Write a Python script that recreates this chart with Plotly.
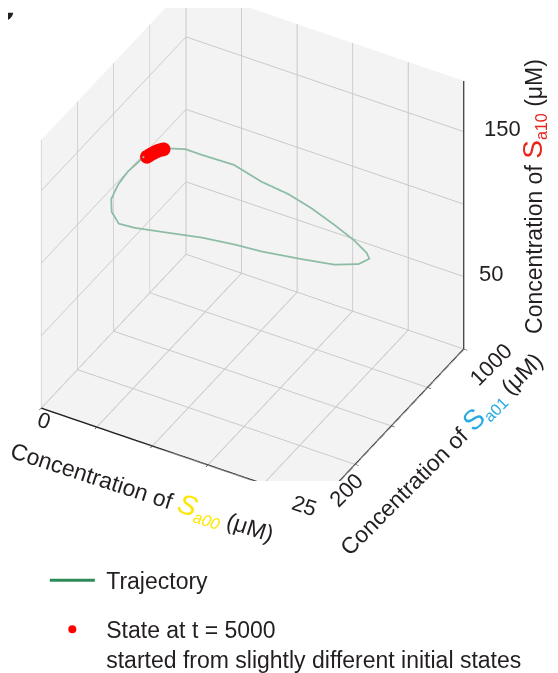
import plotly.graph_objects as go

# Trajectory (limit cycle) in concentration space (µM)
traj_sa00 = [3.5, 4.0, 4.5, 5.5, 6.5, 8.5, 10.5, 12.5, 14.5, 16.5, 18.5, 20.0, 20.5, 20.0,
             18.5, 16.0, 13.0, 11.0, 8.5, 6.5, 4.5, 3.5, 3.0, 2.8, 2.8, 3.0, 3.2, 3.5]
traj_sa01 = [551, 586, 622, 660, 682, 743, 771, 798, 802, 807, 795, 769, 755, 725,
             685, 657, 622, 596, 568, 508, 442, 414, 405, 415, 453, 495, 538, 551]
traj_sa10 = [136, 137, 135, 132, 128, 118, 108, 101, 96, 89, 85, 84, 83, 82,
             83, 84, 86, 89, 91, 97, 104, 108, 116, 123, 128, 132, 133, 136]

# States at t = 5000 from slightly different initial states
end_sa00 = [3.7, 3.8, 3.9, 4.0, 4.1, 4.2, 4.3, 4.4]
end_sa01 = [556, 563, 570, 577, 584, 591, 598, 605]
end_sa10 = [136.0, 136.3, 136.6, 136.8, 137.0, 137.0, 136.8, 136.5]

x_range = [0, 25]
y_range = [200, 1000]
z_range = [0, 185]
x_ticks = [0, 5, 10, 15, 20, 25]
y_ticks = [200, 400, 600, 800, 1000]
z_ticks = [0, 50, 100, 150]
x_labels = {0: "0", 25: "25"}
y_labels = {200: "200", 1000: "1000"}
z_labels = {50: "50", 150: "150"}

FONT = "Liberation Sans, Arial, sans-serif"
TXT = "#231f20"

fig = go.Figure()
# legend entry for the trajectory (solid colour as in the reference legend)
fig.add_trace(go.Scatter3d(
    x=[None], y=[None], z=[None], mode="lines",
    line=dict(color="#2e8b57", width=3), name="&nbsp;Trajectory", legendgroup="traj"))
fig.add_trace(go.Scatter3d(
    x=traj_sa00, y=traj_sa01, z=traj_sa10, mode="lines",
    line=dict(color="#8cbca3", width=3.5), name="Trajectory", showlegend=False,
    legendgroup="traj"))
fig.add_trace(go.Scatter3d(
    x=end_sa00, y=end_sa01, z=end_sa10, mode="markers",
    marker=dict(color="#ff0000", size=8, line=dict(width=0)),
    name="&nbsp;State at t = 5000<br>&nbsp;started from slightly different initial states",
    legendgroup="end"))
# z axis line drawn on the back-right edge, as in the reference
fig.add_trace(go.Scatter3d(
    x=[x_range[1], x_range[1]], y=[y_range[1], y_range[1]], z=z_range, mode="lines",
    line=dict(color=TXT, width=3), showlegend=False, hoverinfo="skip"))

axis_common = dict(
    showbackground=True, backgroundcolor="#f3f3f3",
    gridcolor="#c8c8c8", gridwidth=2,
    showline=True, linecolor=TXT, linewidth=3,
    ticks="outside", ticklen=4, tickcolor=TXT,
    showticklabels=False, zeroline=False, showspikes=False, title=dict(text=""),
)

tick_font = dict(size=22, color=TXT, family=FONT)
annotations = []
x_shifts = {0: (3, -12), 25: (-15, -3)}
for v, t in x_labels.items():
    annotations.append(dict(x=v, y=y_range[0], z=z_range[0], text=t, showarrow=False, textangle=18,
                            font=tick_font, xanchor="center", yanchor="middle",
                            xshift=x_shifts[v][0], yshift=x_shifts[v][1]))
y_shifts = {200: (28, 13), 1000: (27, -15)}
for v, t in y_labels.items():
    annotations.append(dict(x=x_range[1], y=v, z=z_range[0], text=t, showarrow=False, textangle=-45,
                            font=tick_font, xanchor="center", yanchor="middle",
                            xshift=y_shifts[v][0], yshift=y_shifts[v][1]))
z_shifts = {50: 13, 150: 18}
for v, t in z_labels.items():
    annotations.append(dict(x=x_range[1], y=y_range[1], z=v, text=t, showarrow=False,
                            font=tick_font, xanchor="left", yanchor="middle", xshift=z_shifts[v],
                            yshift=3))

annotations.append(dict(
    x=12.5, y=y_range[0], z=z_range[0], showarrow=False, textangle=18,
    text=("Concentration of <span style='color:#ffe600;font-size:28px'><i>S</i></span>"
          "<sub><span style='color:#ffe600'><i>a00</i></span></sub> (μM)"),
    font=dict(size=23, color=TXT, family=FONT), xshift=-38, yshift=-36))
annotations.append(dict(
    x=x_range[1], y=600, z=z_range[0], showarrow=False, textangle=-45,
    text=("Concentration of <span style='color:#29abe2;font-size:28px'>S</span>"
          "<sub><span style='color:#29abe2'>a01</span></sub> (μM)"),
    font=dict(size=23, color=TXT, family=FONT), xshift=50, yshift=-28))
annotations.append(dict(
    x=x_range[1], y=y_range[1], z=95, showarrow=False, textangle=-90,
    text=("Concentration of <span style='color:#e8251c;font-size:28px'>S</span>"
          "<sub><span style='color:#e8251c'>a10</span></sub> (μM)"),
    font=dict(size=23, color=TXT, family=FONT), xshift=70, yshift=15))

fig.update_layout(
    width=558, height=673,
    margin=dict(l=0, r=0, t=0, b=0),
    paper_bgcolor="white",
    font=dict(family=FONT, color=TXT, size=23),
    scene=dict(
        domain=dict(x=[0, 0.876], y=[0.27, 1.0]),
        xaxis=dict(range=x_range, tickvals=x_ticks, **axis_common),
        yaxis=dict(range=y_range, tickvals=y_ticks, **axis_common),
        zaxis=dict(range=z_range, tickvals=z_ticks, **dict(axis_common, showline=False, ticks="")),
        aspectmode="manual", aspectratio=dict(x=1.35, y=1.242, z=1.42),
        camera=dict(eye=dict(x=0.85, y=-1.5, z=1.3), center=dict(x=0, y=0, z=0),
                    projection=dict(type="orthographic")),
        annotations=annotations,
    ),
    legend=dict(x=0.066, y=0.15, xanchor="left", yanchor="top",
                font=dict(size=23, color=TXT, family=FONT),
                bgcolor="rgba(0,0,0,0)", traceorder="grouped",
                itemwidth=45, tracegroupgap=16, valign="top"),
    annotations=[dict(xref="paper", yref="paper", x=0, y=1, xanchor="left", yanchor="bottom",
                      text="<b>c</b>", showarrow=False, xshift=-20, yshift=-24,
                      font=dict(size=44, color=TXT, family=FONT))],
)

fig.write_html("out.html")
